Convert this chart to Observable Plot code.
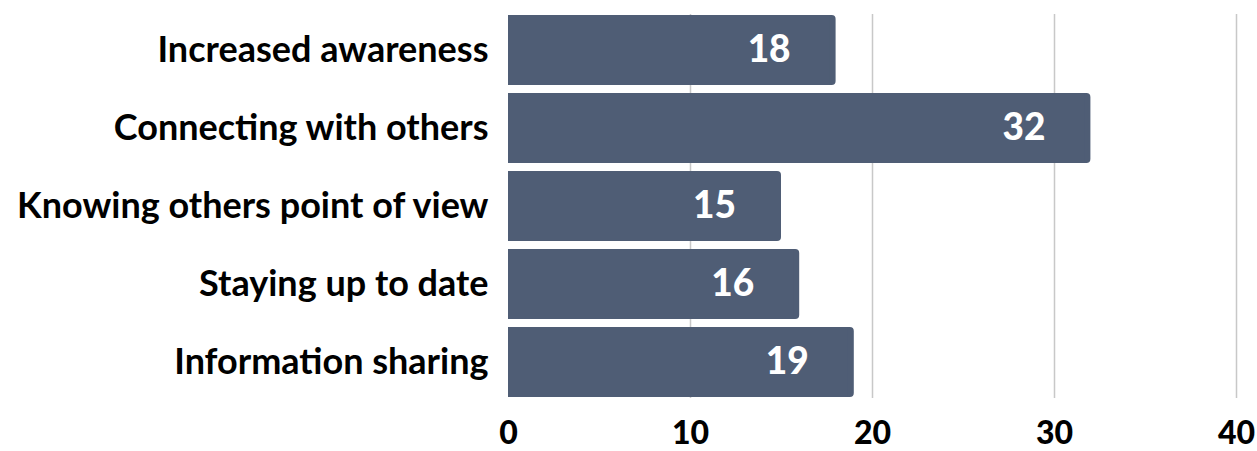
<!DOCTYPE html>
<html>
<head>
<meta charset="utf-8">
<script src="https://cdn.jsdelivr.net/npm/d3@7"></script>
<script src="https://cdn.jsdelivr.net/npm/@observablehq/plot@0.6"></script>
<style>
  html, body { margin: 0; padding: 0; background: #fff; }
  #chart svg { display: block; }
</style>
</head>
<body>
<div id="chart"></div>
<script>
const categories = [
  "Increased awareness",
  "Connecting with others",
  "Knowing others point of view",
  "Staying up to date",
  "Information sharing"
];
const values = [18, 32, 15, 16, 19];
const xTicks = [0, 10, 20, 30, 40];

const data = categories.map((c, i) => ({category: c, value: values[i]}));

const barColor = "#4f5d75";
const font = "Lato, 'Noto Sans', sans-serif";

const chart = Plot.plot({
  width: 1257,
  height: 451,
  marginLeft: 508,
  marginRight: 21,
  marginTop: 14,
  marginBottom: 53,
  style: {fontFamily: font, fontWeight: "bold", color: "#000", background: "#fff"},
  x: {domain: [0, 40], ticks: xTicks, grid: false, label: null},
  y: {domain: categories, padding: 0.1, paddingOuter: 0, label: null},
  marks: [
    Plot.ruleX(xTicks.filter(t => t > 0), {stroke: "#c8c8c8", strokeWidth: 1.5, strokeOpacity: 1}),
    Plot.barX(data, {y: "category", x: "value", fill: barColor, rx: 4}),
    Plot.barX(data, {y: "category", x: "value", fill: barColor, insetRight: 6}),
    Plot.text(data, {y: "category", x: "value", text: d => String(d.value), fill: "#fff",
      fontSize: 37, fontWeight: "900", dx: -67, textAnchor: "middle", fontFamily: font}),
    Plot.axisY({tickSize: 0, tickPadding: 20, fontSize: 36, fontWeight: "bold", label: null}),
    Plot.axisX({ticks: xTicks, tickSize: 0, tickPadding: 23, fontSize: 32, fontWeight: "900", label: null, textAnchor: "middle"})
  ]
});
document.getElementById("chart").appendChild(chart);
</script>
</body>
</html>
